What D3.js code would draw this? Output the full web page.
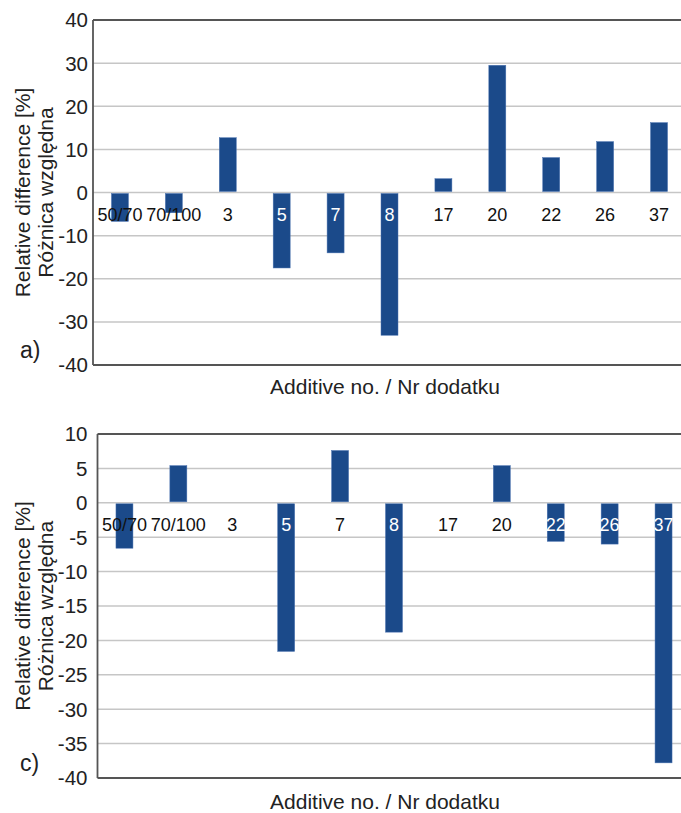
<!DOCTYPE html>
<html>
<head>
<meta charset="utf-8">
<script src="https://cdn.jsdelivr.net/npm/d3@7"></script>
<style>
  html, body { margin: 0; padding: 0; background: #fff; overflow: hidden; }
  svg { display: block; font-family: "Liberation Sans", Arial, sans-serif; }
</style>
</head>
<body>
<script>
(function (d3) {
  "use strict";

  /***** Data *****/
  var additives = ["50/70", "70/100", "3", "5", "7", "8", "17", "20", "22", "26", "37"];
  var valuesA = [-6.7, -4.7, 12.7, -17.5, -14.0, -33.1, 3.2, 29.5, 8.1, 11.8, 16.2];
  var valuesC = [-6.6, 5.4, 0, -21.6, 7.6, -18.8, 0, 5.4, -5.6, -6.0, -37.8];
  var ticksA = [40, 30, 20, 10, 0, -10, -20, -30, -40];
  var ticksC = [10, 5, 0, -5, -10, -15, -20, -25, -30, -35, -40];
  var yTitle = ["Relative difference [%]", "Różnica względna"];
  var xTitle = "Additive no. / Nr dodatku";

  /***** Configuration *****/
  var width = 681, height = 813;
  var barColor = "#1b4a8a";
  var panels = [
    { tag: "a)", values: valuesA, ticks: ticksA, domain: [-40, 40],
      left: 93, right: 686, top: 20, bottom: 365, tickGap: 5, titleY: 394 },
    { tag: "c)", values: valuesC, ticks: ticksC, domain: [-40, 10],
      left: 97.5, right: 690.5, top: 434, bottom: 778, tickGap: 10, titleY: 809 }
  ];

  var svg = d3.select("body").append("svg")
      .attr("width", width)
      .attr("height", height);

  panels.forEach(function (p) { drawPanel(svg, p); });

  function drawPanel(svg, p) {
    var xScale = d3.scaleBand().domain(additives).range([p.left, p.right])
        .paddingInner(0.685).paddingOuter(0.3425);
    var yScale = d3.scaleLinear().domain(p.domain).range([p.bottom, p.top]);
    var g = svg.append("g");

    // grid lines
    g.selectAll("line.grid").data(p.ticks).enter().append("line")
        .attr("class", "grid")
        .attr("x1", p.left).attr("x2", width)
        .attr("y1", function (d) { return yScale(d); })
        .attr("y2", function (d) { return yScale(d); })
        .attr("stroke", function (d) { return (d === p.domain[0] || d === p.domain[1]) ? "#555" : "#c6c6c6"; })
        .attr("stroke-width", function (d) { return (d === p.domain[0] || d === p.domain[1]) ? 1.8 : 1.5; });

    // bars
    g.selectAll("rect.bar").data(p.values).enter().append("rect")
        .attr("class", "bar")
        .attr("x", function (d, i) { return xScale(additives[i]); })
        .attr("width", xScale.bandwidth())
        .attr("y", function (d) { return d >= 0 ? yScale(d) : yScale(0) + 1; })
        .attr("height", function (d) { return Math.max(0, Math.abs(yScale(d) - yScale(0)) - 1); })
        .attr("fill", barColor)
        .attr("stroke", "#4a72b0")
        .attr("stroke-width", 0.5);

    // y axis line
    g.append("line")
        .attr("x1", p.left).attr("x2", p.left)
        .attr("y1", p.top).attr("y2", p.bottom)
        .attr("stroke", "#555").attr("stroke-width", 1.8);

    // y tick labels
    g.selectAll("text.ytick").data(p.ticks).enter().append("text")
        .attr("class", "ytick")
        .attr("x", p.left - p.tickGap)
        .attr("y", function (d) { return yScale(d); })
        .attr("dy", "0.36em")
        .attr("text-anchor", "end")
        .attr("font-size", 20.5)
        .attr("fill", "#222")
        .text(function (d) { return d; });

    // category labels just under zero
    g.selectAll("text.xcat").data(additives).enter().append("text")
        .attr("class", "xcat")
        .attr("x", function (d) { return xScale(d) + xScale.bandwidth() / 2; })
        .attr("y", yScale(0) + 22)
        .attr("dy", "0.36em")
        .attr("text-anchor", "middle")
        .attr("font-size", 18)
        .attr("fill", function (d, i) {
          return (d.length <= 2 && p.values[i] < -4) ? "#fff" : "#111";
        })
        .text(function (d) { return d; });

    // y title (two lines, rotated)
    var cy = (p.top + p.bottom) / 2;
    yTitle.forEach(function (t, i) {
      g.append("text")
          .attr("transform", "translate(" + (22 + i * 23) + "," + cy + ") rotate(-90)")
          .attr("dy", "0.36em")
          .attr("text-anchor", "middle")
          .attr("font-size", 21)
          .attr("fill", "#222")
          .text(t);
    });

    // panel tag
    g.append("text")
        .attr("x", 20).attr("y", p.bottom - 15)
        .attr("dy", "0.36em")
        .attr("font-size", 23)
        .attr("fill", "#222")
        .text(p.tag);

    // x title
    g.append("text")
        .attr("x", 385).attr("y", p.titleY)
        .attr("text-anchor", "middle")
        .attr("font-size", 21)
        .attr("fill", "#222")
        .text(xTitle);
  }

})(d3);
</script>
</body>
</html>
